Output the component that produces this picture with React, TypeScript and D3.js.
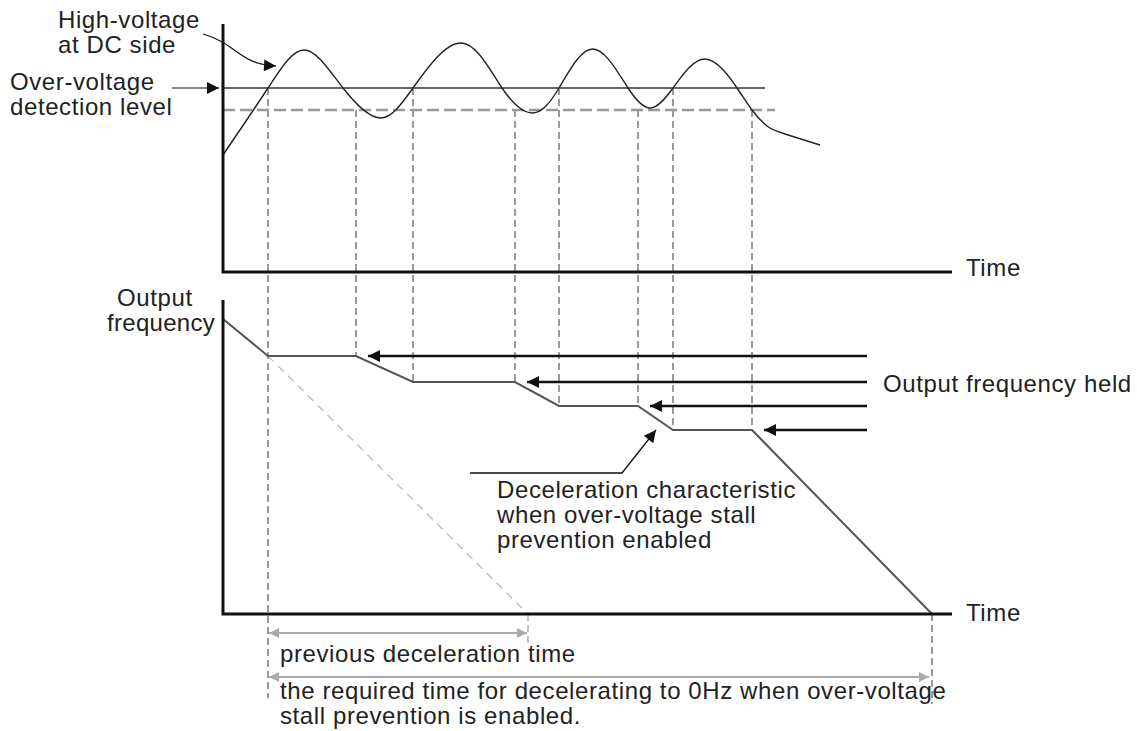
import * as d3 from "d3";

// time axis units shared by both panels
const timeDomain = [0, 146];
const voltDomain = [0, 124];
const freqDomain = [0, 157];

// DC bus voltage trace (top panel)
const voltTimes = [0, 9, 16.4, 24, 31.4, 38, 47.6, 55.8, 62, 67.2, 74, 81, 85.6, 90, 96.4, 102.8, 105.8, 108.8, 112.4, 119.4];
const voltValues = [58.5, 92, 111, 92, 77, 92, 114.5, 92, 79.5, 92, 111.5, 92, 82, 92, 106.5, 92, 81, 73, 69, 63.5];

const detectLevel = 92;
const detectEnd = 108.4;
const resumeLevel = 81;
const resumeEnd = 110.4;

// output frequency (bottom panel)
const freqTimes = [0, 9, 26.6, 38, 58.4, 67.2, 83, 90, 105.8, 141.8];
const freqValues = [147.5, 129, 129, 116, 116, 104, 104, 92, 92, 0];

const holdStart = [9, 38, 67.2, 90];
const holdEnd = [26.6, 58.4, 83, 105.8];
const holdLevels = [129, 116, 104, 92];
const holdArrowTail = 128.8;

const prevDecelStart = 9;
const prevDecelEnd = 61;
const stallDecelEnd = 141.8;

const font = "'Liberation Sans', Arial, sans-serif";

export default function App() {
  const W = 1137, H = 731;
  const x = d3.scaleLinear().domain(timeDomain).range([223, 953]);
  const yV = d3.scaleLinear().domain(voltDomain).range([272, 24]);
  const yF = d3.scaleLinear().domain(freqDomain).range([614, 300]);

  const voltPts = voltTimes.map((t, i) => [t, voltValues[i]] as [number, number]);
  const voltLine = d3.line<[number, number]>()
    .x(d => x(d[0])).y(d => yV(d[1]))
    .curve(d3.curveNatural);

  const freqPts = freqTimes.map((t, i) => [t, freqValues[i]] as [number, number]);
  const freqLine = d3.line<[number, number]>().x(d => x(d[0])).y(d => yF(d[1]));

  const txt = { fontFamily: font, fontSize: 24, fill: "#222", letterSpacing: 0.6 } as const;
  const dashV = { stroke: "#9a9a9a", strokeWidth: 2, strokeDasharray: "7,4" };

  // upper-left callout curve
  const callout = d3.path();
  callout.moveTo(203, 34);
  callout.bezierCurveTo(238, 44, 238, 64, 276, 66);

  return (
    <svg width={W} height={H} style={{ position: "absolute", left: 0, top: 0, background: "#fff" }}>
      <defs>
        <marker id="ab" viewBox="0 0 10 10" refX="10" refY="5" markerUnits="userSpaceOnUse"
          markerWidth="15" markerHeight="12" orient="auto">
          <path d="M0,0L10,5L0,10z" fill="#111" />
        </marker>
        <marker id="ag" viewBox="0 0 10 10" refX="10" refY="5" markerUnits="userSpaceOnUse"
          markerWidth="14" markerHeight="10" orient="auto-start-reverse">
          <path d="M0,0L10,5L0,10z" fill="#aaa" />
        </marker>
      </defs>

      {/* level lines */}
      <line x1={x(0)} x2={x(detectEnd)} y1={yV(detectLevel)} y2={yV(detectLevel)} stroke="#333" strokeWidth={1.5} />
      <line x1={x(0)} x2={x(resumeEnd)} y1={yV(resumeLevel)} y2={yV(resumeLevel)}
        stroke="#999" strokeWidth={2.5} strokeDasharray="12,5" />

      {/* event verticals */}
      {holdStart.map((t, i) => (
        <line key={"s" + i} x1={x(t)} x2={x(t)} y1={yV(detectLevel)}
          y2={i === 0 ? 698 : yF(holdLevels[i])} {...dashV} />
      ))}
      {holdEnd.map((t, i) => (
        <line key={"e" + i} x1={x(t)} x2={x(t)} y1={yV(resumeLevel)} y2={yF(holdLevels[i])} {...dashV} />
      ))}
      <line x1={x(stallDecelEnd)} x2={x(stallDecelEnd)} y1={yF(0)} y2={704} {...dashV} />
      <line x1={x(prevDecelEnd)} x2={x(prevDecelEnd)} y1={yF(0)} y2={646} {...dashV} strokeWidth={1.2} />

      {/* previous deceleration slope */}
      <line x1={x(prevDecelStart)} y1={yF(holdLevels[0])} x2={x(prevDecelEnd)} y2={yF(0)}
        stroke="#bbb" strokeWidth={1.3} strokeDasharray="8,6" />

      {/* voltage trace */}
      <path d={voltLine(voltPts) || ""} fill="none" stroke="#222" strokeWidth={1.4} />

      {/* frequency trace */}
      <path d={freqLine(freqPts) || ""} fill="none" stroke="#555" strokeWidth={2} />

      {/* axes */}
      <path d={`M${x(0)},${yV(voltDomain[1])}V${yV(0)}H${x(timeDomain[1]) - 1}`} fill="none" stroke="#111" strokeWidth={3} />
      <path d={`M${x(0)},${yF(freqDomain[1])}V${yF(0)}H${x(timeDomain[1]) - 1}`} fill="none" stroke="#111" strokeWidth={3} />

      {/* hold arrows */}
      {holdEnd.map((t, i) => (
        <line key={"h" + i} x1={x(holdArrowTail)} x2={x(t) + 12} y1={yF(holdLevels[i])} y2={yF(holdLevels[i])}
          stroke="#111" strokeWidth={2.5} markerEnd="url(#ab)" />
      ))}

      {/* callouts */}
      <path d={callout.toString()} fill="none" stroke="#111" strokeWidth={1.2} markerEnd="url(#ab)" />
      <line x1={172} x2={219} y1={yV(detectLevel)} y2={yV(detectLevel)} stroke="#111" strokeWidth={1.2} markerEnd="url(#ab)" />
      <polyline points={`470,473 622,473 656,430`} fill="none" stroke="#111" strokeWidth={1.3} markerEnd="url(#ab)" />

      {/* time span arrows */}
      <line x1={x(prevDecelStart) + 1} x2={x(prevDecelEnd) - 1} y1={633} y2={633} stroke="#aaa" strokeWidth={2}
        markerStart="url(#ag)" markerEnd="url(#ag)" />
      <line x1={x(prevDecelStart) + 1} x2={x(stallDecelEnd) - 3} y1={677} y2={677} stroke="#aaa" strokeWidth={2}
        markerStart="url(#ag)" markerEnd="url(#ag)" />

      {/* text */}
      <g style={txt as any}>
        <text x={58} y={28}>High-voltage</text>
        <text x={58} y={53}>at DC side</text>
        <text x={10} y={90}>Over-voltage</text>
        <text x={10} y={115}>detection level</text>
        <text x={966} y={276}>Time</text>
        <text x={117} y={306}>Output</text>
        <text x={107} y={331} letterSpacing={0.3}>frequency</text>
        <text x={883} y={392}>Output frequency held</text>
        <text x={497} y={498}>Deceleration characteristic</text>
        <text x={497} y={523}>when over-voltage stall</text>
        <text x={497} y={548}>prevention enabled</text>
        <text x={966} y={621}>Time</text>
        <text x={280} y={662}>previous deceleration time</text>
        <text x={280} y={699}>the required time for decelerating to 0Hz when over-voltage</text>
        <text x={280} y={724}>stall prevention is enabled.</text>
      </g>
    </svg>
  );
}
